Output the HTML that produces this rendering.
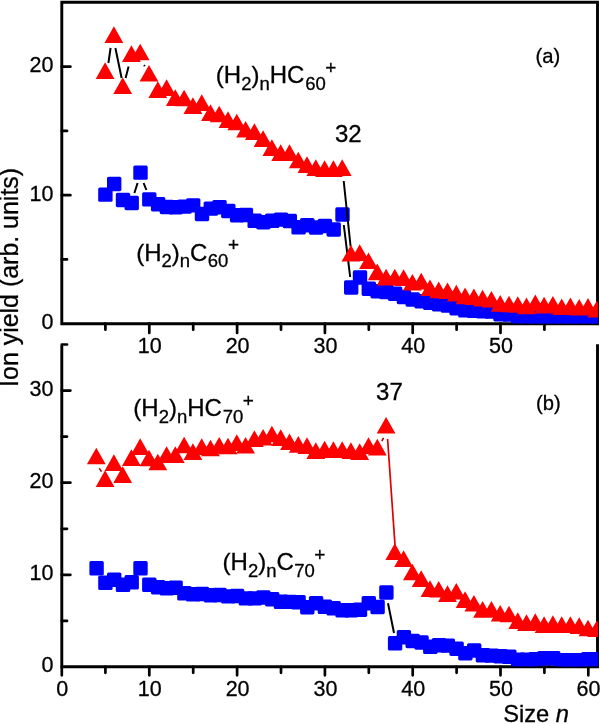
<!DOCTYPE html>
<html><head><meta charset="utf-8"><title>Ion yield</title>
<style>
html,body{margin:0;padding:0;background:#fff}
body{width:600px;height:724px;overflow:hidden;font-family:"Liberation Sans",sans-serif}
svg{display:block;will-change:transform}
.r{fill:#ff0000}
.b rect{fill:#0000ff}
.k{fill:none;stroke:#000;stroke-width:2}
.rl{fill:none;stroke:#e00000;stroke-width:1.7}
.dr{fill:none;stroke:#b00000;stroke-width:1.6}
</style></head><body>
<svg width="600" height="724" viewBox="0 0 600 724">
<rect width="600" height="724" fill="#fff"/>
<defs><clipPath id="ca"><rect x="61.8" y="2.2" width="536.3000000000001" height="321.3"/></clipPath><clipPath id="cb"><rect x="61.8" y="345.2" width="536.3000000000001" height="321.4"/></clipPath></defs>
<path d="M61.8 2.2H597.5V323.7H61.8ZM61.8 345.2V666.8H597.5V344.2" fill="none" stroke="#000" stroke-width="2.9" stroke-linejoin="miter" stroke-linecap="butt"/>
<path d="M61.8 259.4h5.2M61.8 195.2h8.6M61.8 130.9h5.2M61.8 66.7h8.6M61.8 620.9h5.2M61.8 574.8h8.6M61.8 528.8h5.2M61.8 482.7h8.6M61.8 436.6h5.2M61.8 390.6h8.6M61.8 344.5h5.2M105.4 323.7v6.0M149.3 323.7v9.3M193.2 323.7v6.0M237.1 323.7v9.3M281.0 323.7v6.0M324.9 323.7v9.3M368.8 323.7v6.0M412.7 323.7v9.3M456.6 323.7v6.0M500.5 323.7v9.3M544.4 323.7v6.0M61.8 666.8v8.5M105.4 666.8v6.0M149.3 666.8v8.5M193.2 666.8v6.0M237.1 666.8v8.5M281.0 666.8v6.0M324.9 666.8v8.5M368.8 666.8v6.0M412.7 666.8v8.5M456.6 666.8v6.0M500.5 666.8v8.5M544.4 666.8v6.0M588.3 666.8v8.5" fill="none" stroke="#000" stroke-width="2.7" stroke-linecap="round"/>
<g clip-path="url(#ca)">
<path class="k" d="M134.4 193.0L137.6 183.0M143.6 183.0L146.4 190.0M343.8 225.0L350.2 277.0"/>
<g class="b"><rect x="98.2" y="187.4" width="14.4" height="14.4" rx="1.6"/><rect x="107.0" y="176.8" width="14.4" height="14.4" rx="1.6"/><rect x="115.8" y="192.8" width="14.4" height="14.4" rx="1.6"/><rect x="124.5" y="195.8" width="14.4" height="14.4" rx="1.6"/><rect x="133.3" y="165.4" width="14.4" height="14.4" rx="1.6"/><rect x="142.1" y="192.2" width="14.4" height="14.4" rx="1.6"/><rect x="150.9" y="197.0" width="14.4" height="14.4" rx="1.6"/><rect x="159.7" y="199.8" width="14.4" height="14.4" rx="1.6"/><rect x="168.4" y="200.0" width="14.4" height="14.4" rx="1.6"/><rect x="177.2" y="199.4" width="14.4" height="14.4" rx="1.6"/><rect x="186.0" y="198.2" width="14.4" height="14.4" rx="1.6"/><rect x="194.8" y="206.8" width="14.4" height="14.4" rx="1.6"/><rect x="203.6" y="201.4" width="14.4" height="14.4" rx="1.6"/><rect x="212.3" y="200.0" width="14.4" height="14.4" rx="1.6"/><rect x="221.1" y="203.8" width="14.4" height="14.4" rx="1.6"/><rect x="229.9" y="208.0" width="14.4" height="14.4" rx="1.6"/><rect x="238.7" y="207.8" width="14.4" height="14.4" rx="1.6"/><rect x="247.5" y="213.6" width="14.4" height="14.4" rx="1.6"/><rect x="256.2" y="215.0" width="14.4" height="14.4" rx="1.6"/><rect x="265.0" y="213.6" width="14.4" height="14.4" rx="1.6"/><rect x="273.8" y="212.4" width="14.4" height="14.4" rx="1.6"/><rect x="282.6" y="213.8" width="14.4" height="14.4" rx="1.6"/><rect x="291.4" y="220.1" width="14.4" height="14.4" rx="1.6"/><rect x="300.1" y="218.0" width="14.4" height="14.4" rx="1.6"/><rect x="308.9" y="220.3" width="14.4" height="14.4" rx="1.6"/><rect x="317.7" y="218.8" width="14.4" height="14.4" rx="1.6"/><rect x="326.5" y="222.3" width="14.4" height="14.4" rx="1.6"/><rect x="335.3" y="207.3" width="14.4" height="14.4" rx="1.6"/><rect x="344.0" y="280.3" width="14.4" height="14.4" rx="1.6"/><rect x="352.8" y="270.3" width="14.4" height="14.4" rx="1.6"/><rect x="361.6" y="281.5" width="14.4" height="14.4" rx="1.6"/><rect x="370.4" y="284.0" width="14.4" height="14.4" rx="1.6"/><rect x="379.2" y="284.8" width="14.4" height="14.4" rx="1.6"/><rect x="387.9" y="286.5" width="14.4" height="14.4" rx="1.6"/><rect x="396.7" y="289.8" width="14.4" height="14.4" rx="1.6"/><rect x="405.5" y="292.3" width="14.4" height="14.4" rx="1.6"/><rect x="414.3" y="294.0" width="14.4" height="14.4" rx="1.6"/><rect x="423.1" y="295.6" width="14.4" height="14.4" rx="1.6"/><rect x="431.8" y="297.0" width="14.4" height="14.4" rx="1.6"/><rect x="440.6" y="298.3" width="14.4" height="14.4" rx="1.6"/><rect x="449.4" y="301.0" width="14.4" height="14.4" rx="1.6"/><rect x="458.2" y="303.1" width="14.4" height="14.4" rx="1.6"/><rect x="467.0" y="303.6" width="14.4" height="14.4" rx="1.6"/><rect x="475.7" y="304.0" width="14.4" height="14.4" rx="1.6"/><rect x="484.5" y="304.3" width="14.4" height="14.4" rx="1.6"/><rect x="493.3" y="307.0" width="14.4" height="14.4" rx="1.6"/><rect x="502.1" y="307.3" width="14.4" height="14.4" rx="1.6"/><rect x="510.9" y="309.3" width="14.4" height="14.4" rx="1.6"/><rect x="519.6" y="309.8" width="14.4" height="14.4" rx="1.6"/><rect x="528.4" y="309.8" width="14.4" height="14.4" rx="1.6"/><rect x="537.2" y="310.3" width="14.4" height="14.4" rx="1.6"/><rect x="546.0" y="310.3" width="14.4" height="14.4" rx="1.6"/><rect x="554.8" y="310.8" width="14.4" height="14.4" rx="1.6"/><rect x="563.5" y="310.8" width="14.4" height="14.4" rx="1.6"/><rect x="572.3" y="311.3" width="14.4" height="14.4" rx="1.6"/><rect x="581.1" y="311.3" width="14.4" height="14.4" rx="1.6"/><rect x="589.9" y="311.8" width="14.4" height="14.4" rx="1.6"/></g>
<path class="k" d="M108.4 63.0L110.6 48.0M115.4 48.0L121.6 78.0M125.6 78.0L128.6 66.4M144.0 65.2L144.8 66.2M343.7 181.0L350.6 246.5"/>
<path class="r" d="M105.1 62.3l9.4 16.6h-18.8zM113.9 26.3l9.4 16.6h-18.8zM122.7 77.3l9.4 16.6h-18.8zM131.4 45.3l9.4 16.6h-18.8zM140.2 43.7l9.4 16.6h-18.8zM149.0 64.9l9.4 16.6h-18.8zM157.8 81.3l9.4 16.6h-18.8zM166.6 79.3l9.4 16.6h-18.8zM175.3 89.3l9.4 16.6h-18.8zM184.1 89.7l9.4 16.6h-18.8zM192.9 97.3l9.4 16.6h-18.8zM201.7 94.3l9.4 16.6h-18.8zM210.5 104.3l9.4 16.6h-18.8zM219.2 105.7l9.4 16.6h-18.8zM228.0 111.3l9.4 16.6h-18.8zM236.8 113.7l9.4 16.6h-18.8zM245.6 120.9l9.4 16.6h-18.8zM254.4 123.3l9.4 16.6h-18.8zM263.1 130.3l9.4 16.6h-18.8zM271.9 139.3l9.4 16.6h-18.8zM280.7 144.3l9.4 16.6h-18.8zM289.5 144.3l9.4 16.6h-18.8zM298.3 151.7l9.4 16.6h-18.8zM307.0 156.3l9.4 16.6h-18.8zM315.8 159.3l9.4 16.6h-18.8zM324.6 160.3l9.4 16.6h-18.8zM333.4 160.3l9.4 16.6h-18.8zM342.2 159.3l9.4 16.6h-18.8zM350.9 245.0l9.4 16.6h-18.8zM359.7 244.3l9.4 16.6h-18.8zM368.5 252.5l9.4 16.6h-18.8zM377.3 263.6l9.4 16.6h-18.8zM386.1 268.8l9.4 16.6h-18.8zM394.8 268.8l9.4 16.6h-18.8zM403.6 269.3l9.4 16.6h-18.8zM412.4 273.9l9.4 16.6h-18.8zM421.2 272.8l9.4 16.6h-18.8zM430.0 279.5l9.4 16.6h-18.8zM438.7 281.6l9.4 16.6h-18.8zM447.5 282.5l9.4 16.6h-18.8zM456.3 284.8l9.4 16.6h-18.8zM465.1 287.6l9.4 16.6h-18.8zM473.9 288.5l9.4 16.6h-18.8zM482.6 289.8l9.4 16.6h-18.8zM491.4 291.0l9.4 16.6h-18.8zM500.2 295.1l9.4 16.6h-18.8zM509.0 295.7l9.4 16.6h-18.8zM517.8 296.2l9.4 16.6h-18.8zM526.5 297.6l9.4 16.6h-18.8zM535.3 294.6l9.4 16.6h-18.8zM544.1 296.8l9.4 16.6h-18.8zM552.9 296.0l9.4 16.6h-18.8zM561.7 298.5l9.4 16.6h-18.8zM570.4 297.6l9.4 16.6h-18.8zM579.2 299.0l9.4 16.6h-18.8zM588.0 298.1l9.4 16.6h-18.8zM596.8 300.8l9.4 16.6h-18.8z"/>
</g>
<g clip-path="url(#cb)">
<path class="k" d="M388.0 603.2L394.0 633.0"/>
<g class="b"><rect x="89.4" y="561.1" width="14.4" height="14.4" rx="1.6"/><rect x="98.2" y="575.6" width="14.4" height="14.4" rx="1.6"/><rect x="107.0" y="572.5" width="14.4" height="14.4" rx="1.6"/><rect x="115.8" y="577.6" width="14.4" height="14.4" rx="1.6"/><rect x="124.5" y="575.1" width="14.4" height="14.4" rx="1.6"/><rect x="133.3" y="561.1" width="14.4" height="14.4" rx="1.6"/><rect x="142.1" y="577.6" width="14.4" height="14.4" rx="1.6"/><rect x="150.9" y="580.0" width="14.4" height="14.4" rx="1.6"/><rect x="159.7" y="581.1" width="14.4" height="14.4" rx="1.6"/><rect x="168.4" y="580.5" width="14.4" height="14.4" rx="1.6"/><rect x="177.2" y="586.1" width="14.4" height="14.4" rx="1.6"/><rect x="186.0" y="587.1" width="14.4" height="14.4" rx="1.6"/><rect x="194.8" y="586.8" width="14.4" height="14.4" rx="1.6"/><rect x="203.6" y="588.0" width="14.4" height="14.4" rx="1.6"/><rect x="212.3" y="587.8" width="14.4" height="14.4" rx="1.6"/><rect x="221.1" y="589.2" width="14.4" height="14.4" rx="1.6"/><rect x="229.9" y="588.8" width="14.4" height="14.4" rx="1.6"/><rect x="238.7" y="591.2" width="14.4" height="14.4" rx="1.6"/><rect x="247.5" y="591.2" width="14.4" height="14.4" rx="1.6"/><rect x="256.2" y="590.3" width="14.4" height="14.4" rx="1.6"/><rect x="265.0" y="592.0" width="14.4" height="14.4" rx="1.6"/><rect x="273.8" y="594.6" width="14.4" height="14.4" rx="1.6"/><rect x="282.6" y="594.7" width="14.4" height="14.4" rx="1.6"/><rect x="291.4" y="595.1" width="14.4" height="14.4" rx="1.6"/><rect x="300.1" y="600.0" width="14.4" height="14.4" rx="1.6"/><rect x="308.9" y="596.0" width="14.4" height="14.4" rx="1.6"/><rect x="317.7" y="599.6" width="14.4" height="14.4" rx="1.6"/><rect x="326.5" y="601.1" width="14.4" height="14.4" rx="1.6"/><rect x="335.3" y="603.0" width="14.4" height="14.4" rx="1.6"/><rect x="344.0" y="603.0" width="14.4" height="14.4" rx="1.6"/><rect x="352.8" y="602.5" width="14.4" height="14.4" rx="1.6"/><rect x="361.6" y="596.1" width="14.4" height="14.4" rx="1.6"/><rect x="370.4" y="599.8" width="14.4" height="14.4" rx="1.6"/><rect x="379.2" y="585.3" width="14.4" height="14.4" rx="1.6"/><rect x="387.9" y="636.1" width="14.4" height="14.4" rx="1.6"/><rect x="396.7" y="630.1" width="14.4" height="14.4" rx="1.6"/><rect x="405.5" y="633.8" width="14.4" height="14.4" rx="1.6"/><rect x="414.3" y="635.3" width="14.4" height="14.4" rx="1.6"/><rect x="423.1" y="639.6" width="14.4" height="14.4" rx="1.6"/><rect x="431.8" y="638.1" width="14.4" height="14.4" rx="1.6"/><rect x="440.6" y="638.4" width="14.4" height="14.4" rx="1.6"/><rect x="449.4" y="641.5" width="14.4" height="14.4" rx="1.6"/><rect x="458.2" y="646.0" width="14.4" height="14.4" rx="1.6"/><rect x="467.0" y="643.3" width="14.4" height="14.4" rx="1.6"/><rect x="475.7" y="648.0" width="14.4" height="14.4" rx="1.6"/><rect x="484.5" y="648.4" width="14.4" height="14.4" rx="1.6"/><rect x="493.3" y="649.0" width="14.4" height="14.4" rx="1.6"/><rect x="502.1" y="649.6" width="14.4" height="14.4" rx="1.6"/><rect x="510.9" y="652.4" width="14.4" height="14.4" rx="1.6"/><rect x="519.6" y="652.4" width="14.4" height="14.4" rx="1.6"/><rect x="528.4" y="652.0" width="14.4" height="14.4" rx="1.6"/><rect x="537.2" y="651.0" width="14.4" height="14.4" rx="1.6"/><rect x="546.0" y="651.0" width="14.4" height="14.4" rx="1.6"/><rect x="554.8" y="653.0" width="14.4" height="14.4" rx="1.6"/><rect x="563.5" y="653.0" width="14.4" height="14.4" rx="1.6"/><rect x="572.3" y="653.0" width="14.4" height="14.4" rx="1.6"/><rect x="581.1" y="652.0" width="14.4" height="14.4" rx="1.6"/><rect x="589.9" y="652.0" width="14.4" height="14.4" rx="1.6"/></g>
<path class="rl" d="M387.6 439.0L395.0 545.0"/>
<path class="dr" d="M99.3 468.4L101.5 471.6M381.8 441.0L383.6 437.8"/>
<path class="r" d="M96.3 447.7l9.4 16.6h-18.8zM105.1 470.3l9.4 16.6h-18.8zM113.9 454.3l9.4 16.6h-18.8zM122.7 466.3l9.4 16.6h-18.8zM131.4 449.3l9.4 16.6h-18.8zM140.2 438.3l9.4 16.6h-18.8zM149.0 449.7l9.4 16.6h-18.8zM157.8 453.7l9.4 16.6h-18.8zM166.6 446.3l9.4 16.6h-18.8zM175.3 446.3l9.4 16.6h-18.8zM184.1 436.7l9.4 16.6h-18.8zM192.9 443.3l9.4 16.6h-18.8zM201.7 438.3l9.4 16.6h-18.8zM210.5 439.7l9.4 16.6h-18.8zM219.2 436.9l9.4 16.6h-18.8zM228.0 437.7l9.4 16.6h-18.8zM236.8 434.3l9.4 16.6h-18.8zM245.6 436.9l9.4 16.6h-18.8zM254.4 430.3l9.4 16.6h-18.8zM263.1 428.9l9.4 16.6h-18.8zM271.9 425.7l9.4 16.6h-18.8zM280.7 429.3l9.4 16.6h-18.8zM289.5 433.5l9.4 16.6h-18.8zM298.3 436.1l9.4 16.6h-18.8zM307.0 437.3l9.4 16.6h-18.8zM315.8 442.3l9.4 16.6h-18.8zM324.6 440.7l9.4 16.6h-18.8zM333.4 441.3l9.4 16.6h-18.8zM342.2 441.3l9.4 16.6h-18.8zM350.9 442.3l9.4 16.6h-18.8zM359.7 443.3l9.4 16.6h-18.8zM368.5 437.3l9.4 16.6h-18.8zM377.3 438.8l9.4 16.6h-18.8zM386.1 416.9l9.4 16.6h-18.8zM394.8 543.3l9.4 16.6h-18.8zM403.6 550.3l9.4 16.6h-18.8zM412.4 563.7l9.4 16.6h-18.8zM421.2 570.3l9.4 16.6h-18.8zM430.0 580.3l9.4 16.6h-18.8zM438.7 580.9l9.4 16.6h-18.8zM447.5 585.3l9.4 16.6h-18.8zM456.3 582.9l9.4 16.6h-18.8zM465.1 591.3l9.4 16.6h-18.8zM473.9 594.9l9.4 16.6h-18.8zM482.6 601.1l9.4 16.6h-18.8zM491.4 600.9l9.4 16.6h-18.8zM500.2 604.9l9.4 16.6h-18.8zM509.0 605.7l9.4 16.6h-18.8zM517.8 612.3l9.4 16.6h-18.8zM526.5 614.3l9.4 16.6h-18.8zM535.3 613.3l9.4 16.6h-18.8zM544.1 616.3l9.4 16.6h-18.8zM552.9 615.3l9.4 16.6h-18.8zM561.7 616.3l9.4 16.6h-18.8zM570.4 616.3l9.4 16.6h-18.8zM579.2 617.3l9.4 16.6h-18.8zM588.0 619.7l9.4 16.6h-18.8zM596.8 620.5l9.4 16.6h-18.8z"/>
</g>
<g font-family="'Liberation Sans', sans-serif" fill="#000" stroke="#000" stroke-width="0.3"><text x="53.5" y="329.0" font-size="21.5" text-anchor="end">0</text><text x="53.5" y="200.5" font-size="21.5" text-anchor="end">10</text><text x="53.5" y="72.0" font-size="21.5" text-anchor="end">20</text><text x="53.5" y="672.2" font-size="21.5" text-anchor="end">0</text><text x="53.5" y="580.1" font-size="21.5" text-anchor="end">10</text><text x="53.5" y="488.0" font-size="21.5" text-anchor="end">20</text><text x="53.5" y="395.9" font-size="21.5" text-anchor="end">30</text><text x="149.8" y="353.4" font-size="21.5" text-anchor="middle">10</text><text x="237.6" y="353.4" font-size="21.5" text-anchor="middle">20</text><text x="325.4" y="353.4" font-size="21.5" text-anchor="middle">30</text><text x="413.2" y="353.4" font-size="21.5" text-anchor="middle">40</text><text x="501.0" y="353.4" font-size="21.5" text-anchor="middle">50</text><text x="62.3" y="696.4" font-size="21.5" text-anchor="middle">0</text><text x="149.8" y="696.4" font-size="21.5" text-anchor="middle">10</text><text x="237.6" y="696.4" font-size="21.5" text-anchor="middle">20</text><text x="325.4" y="696.4" font-size="21.5" text-anchor="middle">30</text><text x="413.2" y="696.4" font-size="21.5" text-anchor="middle">40</text><text x="501.0" y="696.4" font-size="21.5" text-anchor="middle">50</text><text x="600.4" y="696.4" font-size="21.5" text-anchor="end">60</text><text x="503.2" y="722.3" font-size="23.7" text-anchor="start">Size <tspan font-style="italic">n</tspan></text><text transform="translate(18 386.9) rotate(-90)" font-size="24.95">Ion yield (arb. units)</text><text x="535.6" y="62.8" font-size="20.2" text-anchor="start">(a)</text><text x="536.1" y="410.0" font-size="20.2" text-anchor="start">(b)</text><text x="334.9" y="142.0" font-size="24" text-anchor="start">32</text><text x="376.1" y="399.8" font-size="24" text-anchor="start">37</text><text x="215.8" y="83.3" font-size="24">(H<tspan dy="6.5" font-size="18.5">2</tspan><tspan dy="-6.5">)</tspan><tspan dy="6.5" font-size="18.5">n</tspan><tspan dy="-6.5">HC</tspan><tspan dy="6.5" font-size="18.5" dx="0.8">60</tspan><tspan dy="-15.8" font-size="19" dx="-0.4">+</tspan></text><text x="136.2" y="260.8" font-size="24">(H<tspan dy="6.5" font-size="18.5">2</tspan><tspan dy="-6.5">)</tspan><tspan dy="6.5" font-size="18.5">n</tspan><tspan dy="-6.5">C</tspan><tspan dy="6.5" font-size="18.5" dx="0.3">60</tspan><tspan dy="-15.8" font-size="19" dx="-0.4">+</tspan></text><text x="133.3" y="416.2" font-size="24">(H<tspan dy="6.5" font-size="18.5">2</tspan><tspan dy="-6.5">)</tspan><tspan dy="6.5" font-size="18.5">n</tspan><tspan dy="-6.5">HC</tspan><tspan dy="6.5" font-size="18.5" dx="0.8">70</tspan><tspan dy="-15.8" font-size="19" dx="-0.4">+</tspan></text><text x="222.6" y="570.1" font-size="24">(H<tspan dy="6.5" font-size="18.5">2</tspan><tspan dy="-6.5">)</tspan><tspan dy="6.5" font-size="18.5">n</tspan><tspan dy="-6.5">C</tspan><tspan dy="6.5" font-size="18.5" dx="0.3">70</tspan><tspan dy="-15.8" font-size="19" dx="-0.4">+</tspan></text></g>
</svg>
</body></html>
